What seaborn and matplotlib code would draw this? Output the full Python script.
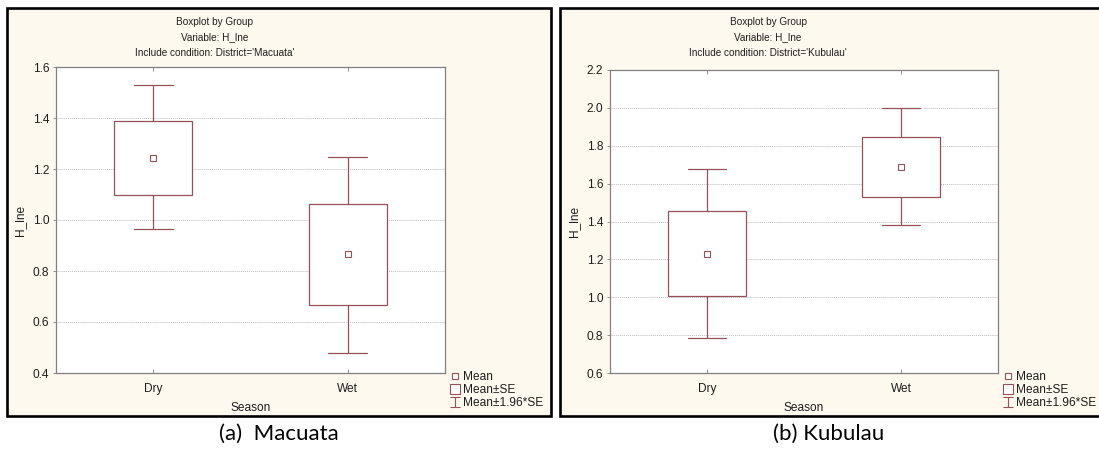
import numpy as np
import pandas as pd
import matplotlib
matplotlib.use("Agg")
import matplotlib.pyplot as plt
from matplotlib.patches import Rectangle
from matplotlib.lines import Line2D
from matplotlib.path import Path
import seaborn as sns

# ---------------- data ----------------
seasons = ["Dry", "Wet"]

mac_mean = [1.245, 0.865]
mac_se_lo = [1.100, 0.668]
mac_se_hi = [1.390, 1.062]
mac_ci_lo = [0.963, 0.480]
mac_ci_hi = [1.528, 1.248]

kub_mean = [1.230, 1.690]
kub_se_lo = [1.005, 1.532]
kub_se_hi = [1.457, 1.847]
kub_ci_lo = [0.785, 1.380]
kub_ci_hi = [1.675, 1.997]

mac_yticks = [0.4, 0.6, 0.8, 1.0, 1.2, 1.4, 1.6]
kub_yticks = [0.6, 0.8, 1.0, 1.2, 1.4, 1.6, 1.8, 2.0, 2.2]

titles = ["Boxplot by Group", "Variable: H_lne"]
mac_cond = "Include condition: District='Macuata'"
kub_cond = "Include condition: District='Kubulau'"
legend_labels = ["Mean", "Mean±SE", "Mean±1.96*SE"]
captions = ["(a)  Macuata", "(b) Kubulau"]

# ---------------- style ----------------
sns.set_theme(style="white")
plt.rcParams["font.family"] = ["Liberation Sans", "DejaVu Sans"]

W, H = 1099, 451
BOX = "#985058"
CREAM = "#FEF9EE"
SPINE = "#808080"
GRID = "#BEBEBE"
TXT = "#1E1E1E"
FS_T = 7.2   # titles
FS = 8.6     # ticks, labels, legend

fig = plt.figure(figsize=(W / 100, H / 100), dpi=100)
fig.patch.set_facecolor("white")


def px(x, y):
    return x / W, 1 - y / H


# panel frames
for (x0, x1) in [(7, 551), (560, 1102)]:
    fx0, fy1 = px(x0, 8)
    fx1, fy0 = px(x1, 416)
    fig.add_artist(Rectangle((fx0, fy0), fx1 - fx0, fy1 - fy0,
                             transform=fig.transFigure, facecolor=CREAM,
                             edgecolor="black", linewidth=1.9, zorder=-5))


def make_df(mean, se_lo, se_hi, ci_lo, ci_hi):
    rows = []
    for i, s in enumerate(seasons):
        for v in (ci_lo[i], se_lo[i], mean[i], se_hi[i], ci_hi[i]):
            rows.append({"Season": s, "H_lne": v})
    return pd.DataFrame(rows)


def panel(rect_px, mean, se_lo, se_hi, ci_lo, ci_hi, yticks, cond):
    x0, y0, x1, y1 = rect_px
    l, t = px(x0, y0)
    r, b = px(x1, y1)
    ax = fig.add_axes([l, b, r - l, t - b])
    ax.set_facecolor("white")
    df = make_df(mean, se_lo, se_hi, ci_lo, ci_hi)
    sns.boxplot(data=df, x="Season", y="H_lne", order=seasons, whis=np.inf,
                width=0.4, color="white", linecolor=BOX, linewidth=0.9,
                saturation=1, medianprops={"visible": False},
                showcaps=True, ax=ax, zorder=3)
    sns.pointplot(x=seasons, y=mean, order=seasons, linestyle="none",
                  marker="s", color=BOX, markersize=4.4,
                  markerfacecolor="white", markeredgewidth=0.8,
                  errorbar=None, ax=ax, zorder=5)
    ax.set_xlim(-0.5, 1.5)
    ax.set_ylim(yticks[0], yticks[-1])
    ax.set_yticks(yticks)
    ax.set_yticklabels([f"{v:.1f}" for v in yticks])
    ax.grid(axis="y", color=GRID, linestyle=(0, (1, 1)), linewidth=0.7)
    ax.set_axisbelow(True)
    for sp in ax.spines.values():
        sp.set_color(SPINE)
        sp.set_linewidth(0.9)
    ax.tick_params(axis="y", which="both", left=True, right=False,
                   direction="out", length=2, width=0.6, color=SPINE,
                   labelsize=FS, pad=3, labelcolor=TXT)
    ax.tick_params(axis="x", which="both", bottom=True, top=True,
                   direction="in", length=3, width=0.6, color=SPINE,
                   labelsize=FS, pad=7, labelcolor=TXT)
    ax.set_xlabel("Season", fontsize=FS, labelpad=5, color=TXT)
    ax.set_ylabel("H_lne", fontsize=FS, labelpad=5, color=TXT)
    cx = (x0 + x1) / 2 - 36
    for txt, yy in zip(titles + [cond], (22, 37.5, 53)):
        fx, fy = px(cx, yy)
        fig.text(fx, fy, txt, ha="center", va="center", fontsize=FS_T,
                 color=TXT)
    # legend
    ipath = Path([(-1, 1), (1, 1), (0, 1), (0, -1), (-1, -1), (1, -1)],
                 [Path.MOVETO, Path.LINETO, Path.MOVETO, Path.LINETO,
                  Path.MOVETO, Path.LINETO])
    handles = [
        Line2D([], [], linestyle="none", marker="s", markersize=4.4,
               markerfacecolor="white", markeredgecolor=BOX,
               markeredgewidth=0.8),
        Line2D([], [], linestyle="none", marker="s", markersize=7.8,
               markerfacecolor="white", markeredgecolor=BOX,
               markeredgewidth=0.8),
        Line2D([], [], linestyle="none", marker=ipath, markersize=7.5,
               markerfacecolor="none", markeredgecolor=BOX,
               markeredgewidth=0.8),
    ]
    lx, ly = px(x1 + 5, 371)
    fig.legend(handles, legend_labels, loc="upper left",
               bbox_to_anchor=(lx, ly), frameon=False, fontsize=FS,
               handlelength=0.8, handletextpad=0.25, labelspacing=0.1,
               borderpad=0, borderaxespad=0, labelcolor=TXT)
    return ax


panel((56, 67, 445, 373), mac_mean, mac_se_lo, mac_se_hi, mac_ci_lo,
      mac_ci_hi, mac_yticks, mac_cond)
panel((610, 70, 998, 373), kub_mean, kub_se_lo, kub_se_hi, kub_ci_lo,
      kub_ci_hi, kub_yticks, kub_cond)

for cap, cx in zip(captions, (279, 829)):
    fx, fy = px(cx, 434)
    fig.text(fx, fy, cap, ha="center", va="center", fontsize=16,
             family=["Lato", "DejaVu Sans"], color="black")

fig.savefig("out.png", dpi=100, facecolor="white")
